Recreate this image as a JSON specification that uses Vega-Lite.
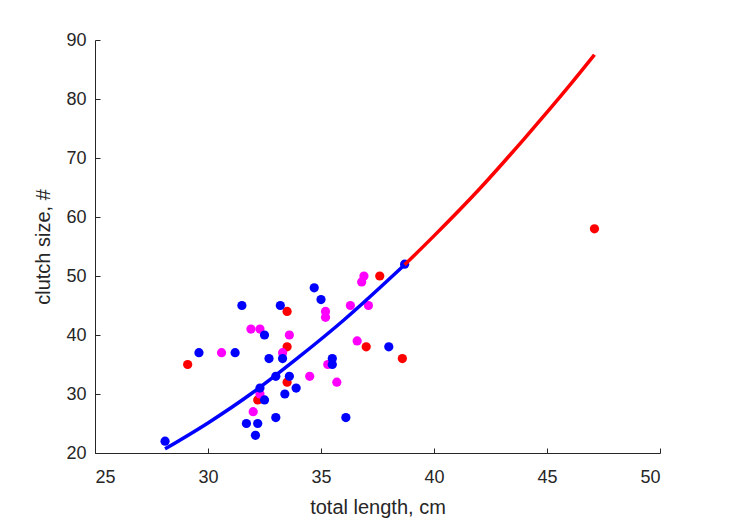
{
  "$schema": "https://vega.github.io/schema/vega-lite/v6.json",
  "autosize": "none",
  "width": 565,
  "height": 413,
  "padding": {"left": 95, "top": 40, "right": 69, "bottom": 68},
  "background": "white",
  "config": {
    "view": {"stroke": null},
    "axis": {
      "grid": false,
      "domainColor": "#262626",
      "tickColor": "#262626",
      "labelColor": "#262626",
      "titleColor": "#262626",
      "labelFont": "Liberation Sans",
      "titleFont": "Liberation Sans",
      "labelFontSize": 18,
      "titleFontSize": 20,
      "titleFontWeight": "normal",
      "domainWidth": 1,
      "tickWidth": 1
    }
  },
  "datasets": {
    "pts": [
      {"len": 33.5, "clutch": 44, "grp": "r"},
      {"len": 33.5, "clutch": 38, "grp": "r"},
      {"len": 29.1, "clutch": 35, "grp": "r"},
      {"len": 33.5, "clutch": 32, "grp": "r"},
      {"len": 32.2, "clutch": 29, "grp": "r"},
      {"len": 37.6, "clutch": 50, "grp": "r"},
      {"len": 37.0, "clutch": 38, "grp": "r"},
      {"len": 38.6, "clutch": 36, "grp": "r"},
      {"len": 47.1, "clutch": 58, "grp": "r"},
      {"len": 31.9, "clutch": 41, "grp": "m"},
      {"len": 32.3, "clutch": 41, "grp": "m"},
      {"len": 33.6, "clutch": 40, "grp": "m"},
      {"len": 30.6, "clutch": 37, "grp": "m"},
      {"len": 33.3, "clutch": 37, "grp": "m"},
      {"len": 32.3, "clutch": 30, "grp": "m"},
      {"len": 32.0, "clutch": 27, "grp": "m"},
      {"len": 36.9, "clutch": 50, "grp": "m"},
      {"len": 36.8, "clutch": 49, "grp": "m"},
      {"len": 36.3, "clutch": 45, "grp": "m"},
      {"len": 37.1, "clutch": 45, "grp": "m"},
      {"len": 35.2, "clutch": 44, "grp": "m"},
      {"len": 35.2, "clutch": 43, "grp": "m"},
      {"len": 36.6, "clutch": 39, "grp": "m"},
      {"len": 35.3, "clutch": 35, "grp": "m"},
      {"len": 34.5, "clutch": 33, "grp": "m"},
      {"len": 35.7, "clutch": 32, "grp": "m"},
      {"len": 31.5, "clutch": 45, "grp": "b"},
      {"len": 33.2, "clutch": 45, "grp": "b"},
      {"len": 32.5, "clutch": 40, "grp": "b"},
      {"len": 29.6, "clutch": 37, "grp": "b"},
      {"len": 31.2, "clutch": 37, "grp": "b"},
      {"len": 32.7, "clutch": 36, "grp": "b"},
      {"len": 33.3, "clutch": 36, "grp": "b"},
      {"len": 33.0, "clutch": 33, "grp": "b"},
      {"len": 33.6, "clutch": 33, "grp": "b"},
      {"len": 32.3, "clutch": 31, "grp": "b"},
      {"len": 33.9, "clutch": 31, "grp": "b"},
      {"len": 33.4, "clutch": 30, "grp": "b"},
      {"len": 32.5, "clutch": 29, "grp": "b"},
      {"len": 33.0, "clutch": 26, "grp": "b"},
      {"len": 31.7, "clutch": 25, "grp": "b"},
      {"len": 32.2, "clutch": 25, "grp": "b"},
      {"len": 32.1, "clutch": 23, "grp": "b"},
      {"len": 28.1, "clutch": 22, "grp": "b"},
      {"len": 38.7, "clutch": 52, "grp": "b"},
      {"len": 34.7, "clutch": 48, "grp": "b"},
      {"len": 35.0, "clutch": 46, "grp": "b"},
      {"len": 38.0, "clutch": 38, "grp": "b"},
      {"len": 35.5, "clutch": 36, "grp": "b"},
      {"len": 35.5, "clutch": 35, "grp": "b"},
      {"len": 36.1, "clutch": 26, "grp": "b"}
    ],
    "curve": [
      {"len": 28.1, "clutch": 20.7, "seg": "b"},
      {"len": 30, "clutch": 25.1, "seg": "b"},
      {"len": 32, "clutch": 30.3, "seg": "b"},
      {"len": 34, "clutch": 36.2, "seg": "b"},
      {"len": 36, "clutch": 42.5, "seg": "b"},
      {"len": 38.7, "clutch": 51.9, "seg": "b"},
      {"len": 38.7, "clutch": 51.9, "seg": "r"},
      {"len": 40, "clutch": 56.8, "seg": "r"},
      {"len": 42, "clutch": 64.7, "seg": "r"},
      {"len": 44, "clutch": 73.3, "seg": "r"},
      {"len": 46, "clutch": 82.3, "seg": "r"},
      {"len": 47.1, "clutch": 87.5, "seg": "r"}
    ]
  },
  "layer": [
    {
      "data": {"name": "pts"},
      "mark": {"type": "point", "filled": true, "opacity": 1, "size": 85},
      "encoding": {
        "x": {"field": "len", "type": "quantitative",
              "scale": {"domain": [25, 50], "nice": false, "zero": false},
              "axis": {"values": [25, 30, 35, 40, 45, 50], "title": "total length, cm", "titlePadding": 11, "labelPadding": 20, "tickSize": -5}},
        "y": {"field": "clutch", "type": "quantitative",
              "scale": {"domain": [20, 90], "nice": false, "zero": false},
              "axis": {"values": [20, 30, 40, 50, 60, 70, 80, 90], "title": "clutch size, #", "titlePadding": 12, "labelPadding": 14, "tickSize": -5}},
        "color": {"field": "grp", "type": "nominal",
                  "scale": {"domain": ["b", "r", "m"], "range": ["#0000FF", "#FF0000", "#FF00FF"]},
                  "legend": null}
      }
    },
    {
      "data": {"name": "curve"},
      "mark": {"type": "line", "strokeWidth": 3.5, "interpolate": "monotone"},
      "encoding": {
        "x": {"field": "len", "type": "quantitative"},
        "y": {"field": "clutch", "type": "quantitative"},
        "color": {"field": "seg", "type": "nominal", "legend": null}
      }
    }
  ]
}
